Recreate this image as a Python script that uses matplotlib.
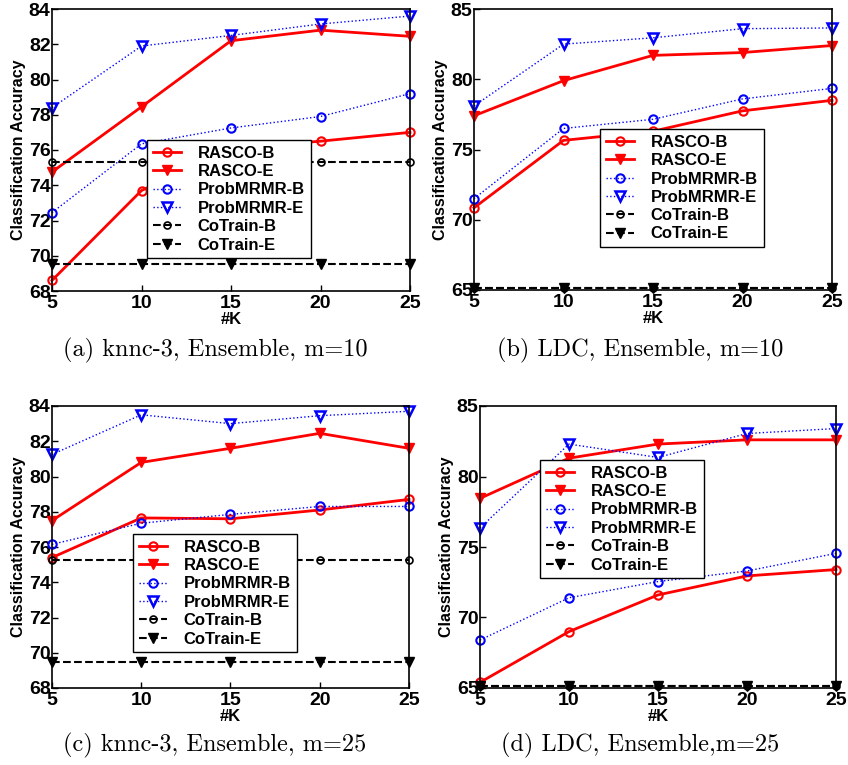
import numpy as np
import matplotlib
matplotlib.use("Agg")
import matplotlib.pyplot as plt

plt.rcParams['font.family'] = ['Liberation Sans', 'DejaVu Sans']

K = [5, 10, 15, 20, 25]
series_names = ["RASCO-B", "RASCO-E", "ProbMRMR-B", "ProbMRMR-E", "CoTrain-B", "CoTrain-E"]

# (a) knnc-3, m=10
a_rasco_b = [68.6, 73.7, 76.1, 76.5, 77.0]
a_rasco_e = [74.75, 78.45, 82.2, 82.8, 82.45]
a_prob_b = [72.45, 76.35, 77.25, 77.9, 79.2]
a_prob_e = [78.4, 81.9, 82.5, 83.15, 83.6]
a_cot_b = [75.3, 75.3, 75.3, 75.3, 75.3]
a_cot_e = [69.55, 69.55, 69.55, 69.55, 69.55]

# (b) LDC, m=10
b_rasco_b = [70.85, 75.65, 76.3, 77.75, 78.5]
b_rasco_e = [77.4, 79.9, 81.7, 81.9, 82.4]
b_prob_b = [71.5, 76.5, 77.15, 78.6, 79.35]
b_prob_e = [78.1, 82.5, 82.95, 83.6, 83.65]
b_cot_b = [65.15, 65.15, 65.15, 65.15, 65.15]
b_cot_e = [65.15, 65.15, 65.15, 65.15, 65.15]

# (c) knnc-3, m=25
c_rasco_b = [75.4, 77.65, 77.6, 78.1, 78.7]
c_rasco_e = [77.5, 80.8, 81.6, 82.45, 81.6]
c_prob_b = [76.15, 77.35, 77.85, 78.3, 78.3]
c_prob_e = [81.25, 83.5, 83.0, 83.45, 83.7]
c_cot_b = [75.25, 75.25, 75.25, 75.25, 75.25]
c_cot_e = [69.5, 69.5, 69.5, 69.5, 69.5]

# (d) LDC, m=25
d_rasco_b = [65.4, 69.0, 71.6, 72.95, 73.4]
d_rasco_e = [78.45, 81.3, 82.3, 82.6, 82.6]
d_prob_b = [68.4, 71.4, 72.55, 73.3, 74.55]
d_prob_e = [76.35, 82.3, 81.35, 83.05, 83.4]
d_cot_b = [65.15, 65.15, 65.15, 65.15, 65.15]
d_cot_e = [65.15, 65.15, 65.15, 65.15, 65.15]

captions = ["(a) knnc-3, Ensemble, m=10", "(b) LDC, Ensemble, m=10",
            "(c) knnc-3, Ensemble, m=25", "(d) LDC, Ensemble,m=25"]

W, H = 848, 765
fig = plt.figure(figsize=(W / 100, H / 100), dpi=100)


def ax_at(l, t, r, b):
    return fig.add_axes([l / W, 1 - b / H, (r - l) / W, (b - t) / H])


panels = [
    (ax_at(52, 9, 410, 291), [a_rasco_b, a_rasco_e, a_prob_b, a_prob_e, a_cot_b, a_cot_e],
     (68, 84), [68, 70, 72, 74, 76, 78, 80, 82, 84], (147, 140)),
    (ax_at(474, 9, 832, 290), [b_rasco_b, b_rasco_e, b_prob_b, b_prob_e, b_cot_b, b_cot_e],
     (65, 85), [65, 70, 75, 80, 85], (600, 129)),
    (ax_at(52, 406, 409, 688), [c_rasco_b, c_rasco_e, c_prob_b, c_prob_e, c_cot_b, c_cot_e],
     (68, 84), [68, 70, 72, 74, 76, 78, 80, 82, 84], (133, 534)),
    (ax_at(480, 406, 836, 688), [d_rasco_b, d_rasco_e, d_prob_b, d_prob_e, d_cot_b, d_cot_e],
     (65, 85), [65, 70, 75, 80, 85], (540, 460)),
]

styles = [
    dict(color='red', ls='-', lw=2, marker='o', mfc='none', mec='red', ms=6, mew=1.5),
    dict(color='red', ls='-', lw=2, marker='v', mfc='red', mec='red', ms=7),
    dict(color='blue', ls=':', lw=1, marker='o', mfc='none', mec='blue', ms=6, mew=1.5),
    dict(color='blue', ls=':', lw=1, marker='v', mfc='none', mec='blue', ms=7, mew=1.8),
    dict(color='black', ls='--', lw=1.5, marker='o', mfc='none', mec='black', ms=5, mew=1.2),
    dict(color='black', ls='--', lw=1.5, marker='v', mfc='black', mec='black', ms=7),
]

for ax, data, ylim, yticks, legpos in panels:
    for name, vals, st in zip(series_names, data, styles):
        ax.plot(K, vals, label=name, clip_on=False, **st)
    ax.set_xlim(5, 25)
    ax.set_ylim(*ylim)
    ax.set_xticks(K)
    ax.set_yticks(yticks)
    ax.tick_params(direction='in', labelsize=14, length=4, width=1, pad=1)
    ax.tick_params(axis='x', pad=3)
    for lab in ax.get_xticklabels() + ax.get_yticklabels():
        lab.set_fontweight('bold')
    for sp in ax.spines.values():
        sp.set_linewidth(1.2)
    ax.set_xlabel("#K", fontsize=12, fontweight='bold', labelpad=0)
    ax.set_ylabel("Classification Accuracy", fontsize=11.5, fontweight='bold', labelpad=2)
    ax.legend(loc='upper left', bbox_to_anchor=(legpos[0] / W, 1 - legpos[1] / H),
              bbox_transform=fig.transFigure, prop={'weight': 'bold', 'size': 12},
              fancybox=False, edgecolor='black', framealpha=1, handlelength=1.7,
              borderpad=0.35, labelspacing=0.2, handletextpad=1.0, borderaxespad=0)

caption_pos = [(215, 350), (640, 350), (215, 745), (640, 745)]
for txt, (x, y) in zip(captions, caption_pos):
    fig.text(x / W, 1 - y / H, txt, ha='center', va='center', fontsize=17.5,
             family=['cmr10', 'DejaVu Serif'])

fig.savefig("out.png", dpi=100)
